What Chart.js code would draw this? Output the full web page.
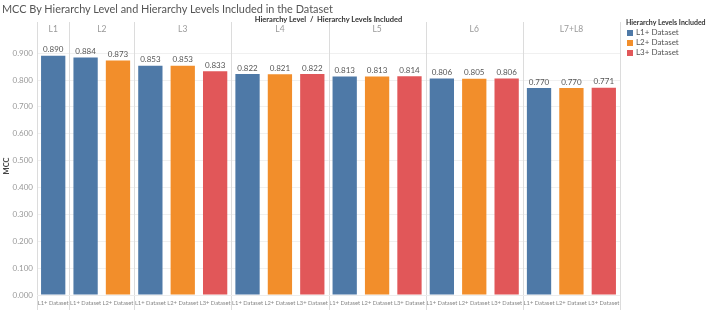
<!DOCTYPE html>
<html><head><meta charset="utf-8">
<script src="https://cdn.jsdelivr.net/npm/chart.js@4"></script>
<style>
html,body{margin:0;padding:0;background:#fff;}
#wrap{position:relative;width:709px;height:310px;font-family:Lato,"Open Sans",sans-serif;}
#title{position:absolute;left:2px;top:2px;font-size:10.9px;color:#555;white-space:nowrap;}
#hdr{position:absolute;left:37px;width:583px;top:15px;text-align:center;font-size:7.5px;font-weight:bold;color:#333;white-space:nowrap;}
#legend{position:absolute;left:626px;top:17px;font-size:8px;color:#555;}
#legend .lt{font-weight:bold;color:#333;font-size:7px;height:10px;line-height:10px;white-space:nowrap;}
#legend .it{height:10px;line-height:10px;white-space:nowrap;}
#legend .sw{display:inline-block;width:6px;height:6px;margin-left:1px;margin-right:3px;vertical-align:-0.5px;}
canvas{position:absolute;left:0;top:0;}
</style></head>
<body><div id="wrap">
<canvas id="c" width="709" height="310"></canvas>
<div id="title">MCC By Hierarchy Level and Hierarchy Levels Included in the Dataset</div>
<div id="hdr">Hierarchy Level&nbsp; / &nbsp;Hierarchy Levels Included</div>
<div id="legend"></div>
</div>
<script>
const levels = ["L1","L2","L2","L3","L3","L3","L4","L4","L4","L5","L5","L5","L6","L6","L6","L7+L8","L7+L8","L7+L8"];
const datasetsIncluded = ["L1+ Dataset","L1+ Dataset","L2+ Dataset","L1+ Dataset","L2+ Dataset","L3+ Dataset","L1+ Dataset","L2+ Dataset","L3+ Dataset","L1+ Dataset","L2+ Dataset","L3+ Dataset","L1+ Dataset","L2+ Dataset","L3+ Dataset","L1+ Dataset","L2+ Dataset","L3+ Dataset"];
const mcc = [0.890,0.884,0.873,0.853,0.853,0.833,0.822,0.821,0.822,0.813,0.813,0.814,0.806,0.805,0.806,0.770,0.770,0.771];
const legendNames = ["L1+ Dataset","L2+ Dataset","L3+ Dataset"];
const legendColors = ["#4e79a7","#f28e2b","#e15759"];
const yTicks = [0,0.1,0.2,0.3,0.4,0.5,0.6,0.7,0.8,0.9];

const colorOf = n => legendColors[legendNames.indexOf(n)];
const lg = document.getElementById('legend');
lg.innerHTML = '<div class="lt">Hierarchy Levels Included</div>' + legendNames.map((n,i)=>
  '<div class="it"><span class="sw" style="background:'+legendColors[i]+'"></span>'+n+'</div>').join('');

const deco = {
  id:'deco',
  beforeDatasetsDraw(chart){
    const ctx = chart.ctx, xs = chart.scales.x, ca = chart.chartArea;
    const bounds = [ca.left];
    for(let i=1;i<levels.length;i++){
      if(levels[i]!==levels[i-1]) bounds.push((xs.getPixelForValue(i-1)+xs.getPixelForValue(i))/2);
    }
    bounds.push(ca.right);
    ctx.save();
    ctx.strokeStyle='#dcdcdc'; ctx.lineWidth=1;
    bounds.forEach(b=>{const x=Math.round(b)+0.5;ctx.beginPath();ctx.moveTo(x,22);ctx.lineTo(x,310);ctx.stroke();});
    ctx.strokeStyle='#ececec';
    ctx.beginPath();ctx.moveTo(ca.left,ca.bottom+0.5);ctx.lineTo(ca.right,ca.bottom+0.5);ctx.stroke();
    const groups=[...new Set(levels)];
    ctx.fillStyle='#999'; ctx.font='8.5px Lato, sans-serif'; ctx.textAlign='center'; ctx.textBaseline='middle';
    groups.forEach((g,k)=>{ctx.fillText(g,(bounds[k]+bounds[k+1])/2,29);});
    ctx.restore();
  },
  afterDatasetsDraw(chart){
    const ctx=chart.ctx, meta=chart.getDatasetMeta(0);
    ctx.save();
    ctx.fillStyle='#555'; ctx.font='8px Lato, sans-serif'; ctx.textAlign='center'; ctx.textBaseline='bottom';
    meta.data.forEach((bar,i)=>{ctx.fillText(mcc[i].toFixed(3),bar.x,bar.y-2);});
    ctx.restore();
  }
};

new Chart(document.getElementById('c'),{
  type:'bar',
  data:{labels:datasetsIncluded,datasets:[{data:mcc,backgroundColor:datasetsIncluded.map(colorOf),barPercentage:0.75,categoryPercentage:1}]},
  options:{
    responsive:false,animation:false,
    layout:{padding:{top:37,right:89,left:2,bottom:0}},
    plugins:{legend:{display:false},tooltip:{enabled:false}},
    scales:{
      x:{grid:{display:false,drawTicks:false},border:{display:false},
         ticks:{color:'#888',font:{size:5.8,family:'Lato',lineHeight:1},maxRotation:0,minRotation:0,autoSkip:false,padding:5},
         afterFit(s){s.height=15;}},
      y:{min:0,max:0.96,
         afterBuildTicks(s){s.ticks=yTicks.map(v=>({value:v}));},
         afterFit(s){s.width=35;},
         grid:{color:'#f0f0f0',drawTicks:false},border:{display:false},
         ticks:{color:'#999',font:{size:8,family:'Lato'},padding:4,callback:v=>v.toFixed(3)},
         title:{display:true,text:'MCC',color:'#444',font:{size:7.5,family:'Lato',weight:'bold'},padding:0}}
    }
  },
  plugins:[deco]
});
</script>
</body></html>
